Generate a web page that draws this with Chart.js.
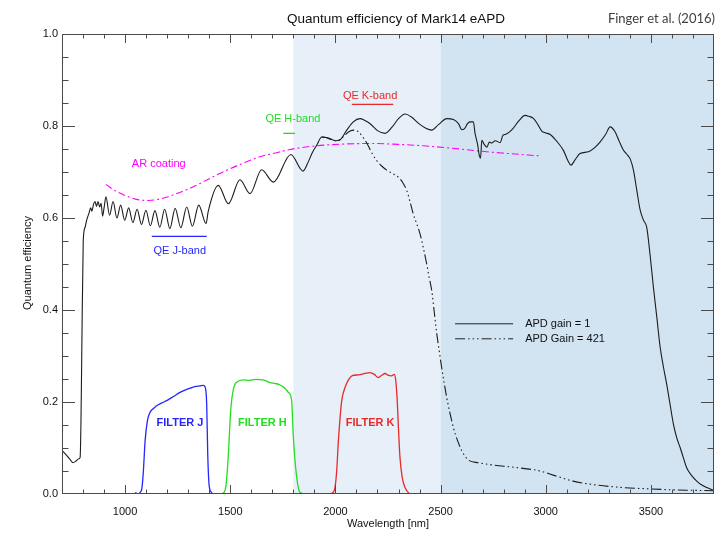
<!DOCTYPE html>
<html>
<head>
<meta charset="utf-8">
<title>Quantum efficiency of Mark14 eAPD</title>
<script src="https://cdn.jsdelivr.net/npm/chart.js@4.4.1/dist/chart.umd.min.js"></script>
<style>
  html, body { margin: 0; padding: 0; background: #fff; }
  #wrap { width: 723px; height: 535px; }
</style>
</head>
<body>
<div id="wrap"><canvas id="qeChart" width="723" height="535"></canvas></div>
<script>
// ---- data ----
// APD gain = 1 (solid black)
var apd1Wl = [
  700, 720, 740, 752, 765, 778, 786, 790, 794, 801,
  810, 817, 828, 836, 842, 850, 857, 864, 871, 879,
  886, 893, 900, 909, 926, 943, 961, 979, 998, 1017,
  1037, 1057, 1078, 1099, 1120, 1142, 1165, 1188, 1213, 1238,
  1265, 1293, 1320, 1350, 1385, 1395, 1443, 1491, 1546, 1594,
  1649, 1705, 1788, 1846, 1871, 1890, 1911, 1935, 1955, 1974,
  2000, 2022, 2054, 2085, 2117, 2140, 2165, 2200, 2236, 2270,
  2300, 2331, 2360, 2400, 2430, 2458, 2490, 2529, 2561, 2585,
  2601, 2615, 2628, 2640, 2656, 2664, 2676, 2684, 2690, 2696,
  2705, 2720, 2732, 2743, 2760, 2783, 2797, 2810, 2845, 2870,
  2902, 2920, 2940, 2960, 2981, 3000, 3020, 3050, 3084, 3105,
  3120, 3140, 3163, 3203, 3230, 3258, 3285, 3306, 3330, 3350,
  3369, 3390, 3401, 3417, 3433, 3449, 3465, 3480, 3496, 3512,
  3528, 3544, 3560, 3575, 3590, 3607, 3623, 3639, 3655, 3670,
  3694, 3718, 3740, 3765, 3800
]
var apd1Qe = [
  .095, .085, .074, .068, .071, .076, .079, .150, .305, .551,
  .580, .595, .610, .622, .615, .630, .636, .625, .636, .624,
  .632, .604, .622, .646, .606, .636, .600, .628, .595, .622,
  .590, .619, .586, .617, .583, .616, .580, .619, .577, .621,
  .579, .624, .582, .628, .588, .614, .671, .631, .683, .653,
  .705, .678, .738, .702, .722, .742, .758, .776, .775, .772,
  .768, .770, .791, .809, .816, .812, .805, .790, .784, .798,
  .816, .826, .820, .804, .795, .791, .803, .816, .814, .805,
  .792, .795, .805, .809, .809, .784, .760, .736, .730, .769,
  .762, .754, .765, .763, .768, .764, .780, .782, .795, .810,
  .823, .821, .817, .805, .789, .785, .782, .768, .747, .725,
  .715, .727, .740, .744, .752, .765, .782, .798, .787, .766,
  .748, .736, .729, .704, .660, .617, .595, .580, .520, .449,
  .385, .319, .275, .239, .198, .152, .122, .101, .078, .057,
  .040, .028, .020, .014, .008
]

// APD Gain = 421 (dash dot dot dot)
var apd421Wl = [
  1935, 1955, 1974, 2000, 2022, 2040, 2070, 2093, 2110, 2130,
  2149, 2175, 2196, 2220, 2244, 2270, 2299, 2320, 2339, 2355,
  2370, 2386, 2402, 2418, 2434, 2446, 2458, 2470, 2482, 2494,
  2505, 2517, 2529, 2545, 2561, 2580, 2601, 2632, 2680, 2750,
  2850, 2973, 3050, 3130, 3250, 3368, 3500, 3606, 3700, 3800
]
var apd421Qe = [
  .776, .775, .772, .768, .770, .778, .789, .791, .787, .776,
  .763, .740, .725, .713, .704, .697, .689, .677, .660, .635,
  .609, .588, .566, .535, .500, .470, .442, .395, .348, .310,
  .275, .242, .210, .175, .144, .117, .094, .074, .068, .063,
  .058, .050, .039, .028, .019, .014, .011, .009, .008, .007
]

// AR coating (magenta dash dot)
var arWl = [909, 950, 1000, 1050, 1110, 1180, 1245, 1300, 1356, 1420, 1483, 1560,
            1641, 1720, 1784, 1911, 2050, 2180, 2300, 2418, 2550, 2672, 2800, 2973]
var arQe = [.673, .660, .649, .641, .638, .643, .653, .663, .675, .690, .704, .719,
            .733, .742, .749, .757, .761, .762, .760, .757, .752, .746, .741, .735]

// filter transmissions
var filterJWl = [1047, 1062, 1072, 1079, 1087, 1095, 1106, 1118, 1135, 1150, 1175, 1198, 1230,
                 1261, 1290, 1309, 1335, 1356, 1372, 1380, 1388, 1393, 1400, 1410, 1419, 1450]
var filterJTr = [.003, .000, .004, .010, .050, .115, .159, .177, .186, .192, .198, .203, .212,
                 .221, .227, .230, .234, .235, .236, .233, .195, .086, .017, .004, .000, .000]

var filterHWl = [1400, 1440, 1467, 1480, 1491, 1502, 1515, 1538, 1562, 1590, 1620, 1657,
                 1689, 1715, 1737, 1760, 1776, 1792, 1800, 1816, 1832, 1860, 1990]
var filterHTr = [.000, .000, .002, .020, .086, .181, .228, .245, .248, .247, .249, .248,
                 .242, .240, .237, .230, .221, .203, .123, .036, .003, .000, .000]

var filterKWl = [1974, 1990, 1998, 2006, 2014, 2022, 2030, 2046, 2062, 2078, 2110, 2140, 2165, 2185, 2204,
                 2220, 2236, 2252, 2268, 2279, 2286, 2293, 2300, 2307, 2318, 2331, 2345, 2355, 2394]
var filterKTr = [.000, .004, .014, .050, .115, .165, .203, .232, .248, .257, .259, .262, .264, .260, .253,
                 .258, .262, .258, .257, .260, .250, .210, .140, .079, .035, .014, .004, .000, .000]

// mean QE band markers
var qeJWl = [1127, 1388], qeJVal = [0.56, 0.56]
var qeHWl = [1752, 1808], qeHVal = [0.784, 0.784]
var qeKWl = [2078, 2275], qeKVal = [0.847, 0.847]

// axis ticks and shaded ranges
var xTickVals = [1000, 1500, 2000, 2500, 3000, 3500]
var yTickVals = [0, 0.2, 0.4, 0.6, 0.8, 1.0]
var shadeFrom = [1800, 2500]
var shadeTo = [2500, 3800]

// ---- styles ----
var FONT = "'Liberation Sans', Arial, Helvetica, sans-serif"
var shadeColors = ['#e7eff8', '#d2e3f1']
var BLUE = '#2626ff', GREEN = '#22dd22', RED = '#e82a2a', MAGENTA = '#ff00ff'

var labels = [
    { text: 'AR coating', x: 1160, y: 0.717, color: MAGENTA },
    { text: 'QE J-band', x: 1260, y: 0.529, color: BLUE },
    { text: 'QE H-band', x: 1798, y: 0.815, color: GREEN },
    { text: 'QE K-band', x: 2165, y: 0.866, color: RED },
    { text: 'FILTER J', x: 1261, y: 0.154, color: BLUE },
    { text: 'FILTER H', x: 1653, y: 0.154, color: GREEN },
    { text: 'FILTER K', x: 2165, y: 0.155, color: RED }
]

function pts(xs, ys) {
    return xs.map(function(x, i) { return { x: x, y: ys[i] } })
}

function line(label, xs, ys, color, width, dash) {
    return {
        label: label,
        data: pts(xs, ys),
        borderColor: color,
        borderWidth: width,
        borderDash: dash || [],
        pointRadius: 0,
        fill: false,
        cubicInterpolationMode: 'monotone'
    }
}

// background bands
var shadePlugin = {
    id: 'shade',
    beforeDatasetsDraw: function(chart) {
        var ctx = chart.ctx, a = chart.chartArea, x = chart.scales.x
        ctx.save()
        for (var i = 0; i < shadeFrom.length; i++) {
            var x0 = x.getPixelForValue(shadeFrom[i])
            var x1 = x.getPixelForValue(shadeTo[i])
            ctx.fillStyle = shadeColors[i]
            ctx.fillRect(x0, a.top, x1 - x0, a.bottom - a.top)
        }
        ctx.restore()
    }
}

// IDL style box with inward major / minor ticks
var framePlugin = {
    id: 'frame',
    afterDatasetsDraw: function(chart) {
        var ctx = chart.ctx, a = chart.chartArea
        var sx = chart.scales.x, sy = chart.scales.y
        ctx.save()
        ctx.strokeStyle = '#4a4a4a'
        ctx.lineWidth = 1
        ctx.strokeRect(a.left + 0.5, a.top + 0.5, a.right - a.left - 1, a.bottom - a.top - 1)
        ctx.beginPath()
        for (var v = 800; v < 3800; v += 100) {
            var px = Math.round(sx.getPixelForValue(v)) + 0.5
            var len = (v % 500 === 0) ? 9 : 4.5
            ctx.moveTo(px, a.bottom); ctx.lineTo(px, a.bottom - len)
            ctx.moveTo(px, a.top); ctx.lineTo(px, a.top + len)
        }
        for (var k = 1; k < 20; k++) {
            var py = Math.round(sy.getPixelForValue(k * 0.05)) + 0.5
            var l2 = (k % 4 === 0) ? 13 : 6.5
            ctx.moveTo(a.left, py); ctx.lineTo(a.left + l2, py)
            ctx.moveTo(a.right, py); ctx.lineTo(a.right - l2, py)
        }
        ctx.stroke()
        ctx.restore()
    }
}

// titles, in-plot labels and legend
var textPlugin = {
    id: 'texts',
    afterDraw: function(chart) {
        var ctx = chart.ctx, a = chart.chartArea
        var sx = chart.scales.x, sy = chart.scales.y
        ctx.save()
        ctx.textBaseline = 'middle'
        ctx.textAlign = 'center'
        ctx.fillStyle = '#111'
        ctx.font = '13.5px ' + FONT
        ctx.fillText('Quantum efficiency of Mark14 eAPD', 396, 19)
        ctx.font = '11px ' + FONT
        ctx.fillText('Wavelength [nm]', (a.left + a.right) / 2, 524)
        ctx.save()
        ctx.translate(28, 263)
        ctx.rotate(-Math.PI / 2)
        ctx.fillText('Quantum efficiency', 0, 0)
        ctx.restore()

        ctx.fillStyle = '#404040'
        ctx.font = "13px Lato, 'Open Sans', sans-serif"
        ctx.textAlign = 'right'
        ctx.fillText('Finger et al. (2016)', 715, 19)

        ctx.textAlign = 'center'
        labels.forEach(function(l) {
            ctx.fillStyle = l.color
            ctx.font = (l.text.indexOf('FILTER') === 0 ? 'bold ' : '') + '11px ' + FONT
            ctx.fillText(l.text, sx.getPixelForValue(l.x), sy.getPixelForValue(l.y))
        })

        // legend
        var lx0 = sx.getPixelForValue(2569), lx1 = sx.getPixelForValue(2845)
        var ly = sy.getPixelForValue(0.37)
        ctx.strokeStyle = '#222'
        ctx.lineWidth = 1
        ctx.beginPath(); ctx.moveTo(lx0, ly); ctx.lineTo(lx1, ly); ctx.stroke()
        ctx.setLineDash([10, 3, 1.5, 3, 1.5, 3, 1.5, 3])
        ctx.beginPath(); ctx.moveTo(lx0, ly + 15); ctx.lineTo(lx1, ly + 15); ctx.stroke()
        ctx.setLineDash([])
        ctx.fillStyle = '#111'
        ctx.font = '11px ' + FONT
        ctx.textAlign = 'left'
        ctx.fillText('APD gain = 1', lx1 + 12, ly)
        ctx.fillText('APD Gain = 421', lx1 + 12, ly + 15)
        ctx.restore()
    }
}

var qeChart = new Chart(document.getElementById('qeChart').getContext('2d'), {
    type: 'line',
    data: {
        datasets: [
            line('APD gain = 1', apd1Wl, apd1Qe, '#1c1c1c', 1.1),
            line('APD Gain = 421', apd421Wl, apd421Qe, '#1c1c1c', 1.1, [10, 3, 1.5, 3, 1.5, 3, 1.5, 3]),
            line('AR coating', arWl, arQe, MAGENTA, 1.1, [7, 3, 2, 3]),
            line('Filter J', filterJWl, filterJTr, BLUE, 1.3),
            line('Filter H', filterHWl, filterHTr, GREEN, 1.3),
            line('Filter K', filterKWl, filterKTr, RED, 1.3),
            line('QE J-band', qeJWl, qeJVal, BLUE, 1.3),
            line('QE H-band', qeHWl, qeHVal, GREEN, 1.3),
            line('QE K-band', qeKWl, qeKVal, RED, 1.3)
        ]
    },
    options: {
        responsive: false,
        animation: false,
        devicePixelRatio: 1,
        layout: { padding: { left: 0, top: 34, right: 9, bottom: 0 } },
        plugins: {
            legend: { display: false },
            tooltip: { enabled: false },
            title: { display: false }
        },
        scales: {
            x: {
                type: 'linear',
                min: 700,
                max: 3800,
                grid: { display: false, drawTicks: false },
                border: { display: false },
                afterBuildTicks: function(scale) {
                    scale.ticks = xTickVals.map(function(v) { return { value: v } })
                },
                afterFit: function(scale) { scale.height = 41 },
                ticks: {
                    padding: 11,
                    maxRotation: 0,
                    autoSkip: false,
                    color: '#111',
                    font: { family: FONT, size: 11 },
                    callback: function(v) { return String(v) }
                }
            },
            y: {
                min: 0,
                max: 1,
                grid: { display: false, drawTicks: false },
                border: { display: false },
                afterBuildTicks: function(scale) {
                    scale.ticks = yTickVals.map(function(v) { return { value: v } })
                },
                afterFit: function(scale) { scale.width = 62 },
                ticks: {
                    padding: 4,
                    color: '#111',
                    font: { family: FONT, size: 11 },
                    callback: function(v) { return Number(v).toFixed(1) }
                }
            }
        }
    },
    plugins: [shadePlugin, framePlugin, textPlugin]
})
</script>
</body>
</html>
